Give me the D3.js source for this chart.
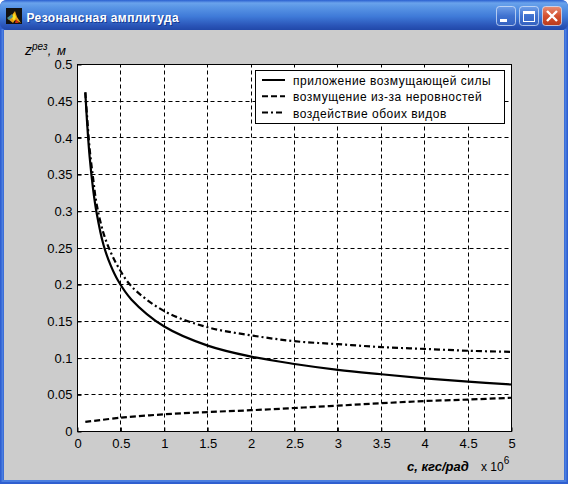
<!DOCTYPE html>
<html><head><meta charset="utf-8">
<script src="https://cdn.jsdelivr.net/npm/d3@7/dist/d3.min.js"></script>
<style>html,body{margin:0;padding:0;background:#fff;overflow:hidden}svg{display:block}text{font-family:"Liberation Sans",Arial,sans-serif}</style>
</head><body><svg id="c" width="568" height="484"></svg>
<script>
const windowTitle = "Резонансная амплитуда";
const xTicks = [0,0.5,1,1.5,2,2.5,3,3.5,4,4.5,5];
const yTicks = [0,0.05,0.1,0.15,0.2,0.25,0.3,0.35,0.4,0.45,0.5];
const seriesNames = ["приложение возмущающей силы","возмущение из-за неровностей","воздействие обоих видов"];
const cSolid = [0.09,0.11,0.14,0.18,0.22,0.3,0.38,0.47,0.62,1,1.5,2,2.5,3,3.5,4,4.5,5];
const zSolid = [0.462,0.422,0.374,0.33,0.298,0.254,0.227,0.205,0.18,0.143,0.117,0.102,0.092,0.084,0.078,0.0725,0.068,0.064];
const cDash = [0.09,0.5,1,1.5,2,2.5,3,3.5,4,4.5,5];
const zDash = [0.013,0.0188,0.0234,0.0265,0.029,0.032,0.0352,0.0385,0.0415,0.0435,0.046];
const cDashDot = [0.09,0.11,0.14,0.18,0.22,0.3,0.38,0.47,0.62,1,1.5,2,2.5,3,3.5,4,4.5,5];
const zDashDot = [0.462,0.43,0.385,0.345,0.31,0.27,0.245,0.224,0.198,0.164,0.142,0.131,0.123,0.119,0.115,0.1125,0.11,0.1085];
const dashes = [null,"6,3","6,3,2,3"];

const svg = d3.select("#c");
const defs = svg.append("defs");
const tb = defs.append("linearGradient").attr("id","tb").attr("x1",0).attr("x2",0).attr("y1",0).attr("y2",1);
[[0,"#2a5fd0"],[0.1,"#6aa3ec"],[0.22,"#5b97e6"],[0.55,"#3f7ad8"],[0.85,"#2a55b8"],[1,"#2148a8"]].forEach(s=>tb.append("stop").attr("offset",s[0]).attr("stop-color",s[1]));
const rb = defs.append("linearGradient").attr("id","rb").attr("x1",0).attr("x2",0).attr("y1",0).attr("y2",1);
[[0,"#e89078"],[0.5,"#d4512f"],[1,"#b83a1c"]].forEach(s=>rb.append("stop").attr("offset",s[0]).attr("stop-color",s[1]));
const bb = defs.append("linearGradient").attr("id","bb").attr("x1",0).attr("x2",0).attr("y1",0).attr("y2",1);
[[0,"#6f9fe8"],[0.5,"#3f72d0"],[1,"#3562c0"]].forEach(s=>bb.append("stop").attr("offset",s[0]).attr("stop-color",s[1]));

// window frame
svg.append("path").attr("d","M0,484V7Q0,0 7,0H561Q568,0 568,7V484Z").attr("fill","#2f5fd0");
svg.append("rect").attr("x",0).attr("y",0).attr("width",568).attr("height",30).attr("rx",7).attr("fill","url(#tb)");
svg.append("rect").attr("x",4).attr("y",30).attr("width",560).attr("height",450).attr("fill","#cccccc");
svg.append("rect").attr("x",1.5).attr("y",29).attr("width",2).attr("height",453).attr("fill","#4a7ee0");
svg.append("rect").attr("x",564.5).attr("y",29).attr("width",2).attr("height",453).attr("fill","#4a7ee0");
svg.append("rect").attr("x",2).attr("y",480).attr("width",564).attr("height",2).attr("fill","#4a7ee0");

// icon
const ic = svg.append("g").attr("transform","translate(6,8)");
ic.append("rect").attr("width",16).attr("height",16).attr("fill","#111");
ic.append("path").attr("d","M2,11L6,7L9,3L11,9L15,15L9,12L7,15Z").attr("fill","#e8a010");
ic.append("path").attr("d","M8,5L10,9L8,13L6,10Z").attr("fill","#f8e020");
ic.append("path").attr("d","M1,10L6,6L7,9L3,12Z").attr("fill","#4a8a90");
ic.append("path").attr("d","M10,11L13,15H9Z").attr("fill","#d03010");

const titleAttrs=s=>s.attr("x",26.5).attr("y",21.5).attr("font-size",12).attr("font-weight","bold").attr("letter-spacing",.4).text(windowTitle);
svg.append("text").call(titleAttrs).attr("fill","#0a2a80").attr("opacity",.7).attr("dx",1).attr("dy",1);
svg.append("text").call(titleAttrs).attr("fill","#fff");

// window buttons
function btn(x,fill){return svg.append("rect").attr("x",x+.5).attr("y",6.5).attr("width",19).attr("height",19).attr("rx",3).attr("fill",fill).attr("stroke","#d8e4f8").attr("stroke-opacity",.75);}
btn(496,"url(#bb)");
svg.append("rect").attr("x",500).attr("y",19).attr("width",7).attr("height",3).attr("fill","#fff");
btn(519,"url(#bb)");
svg.append("rect").attr("x",523.5).attr("y",11.5).attr("width",11).attr("height",10).attr("fill","none").attr("stroke","#fff");
svg.append("rect").attr("x",523).attr("y",11).attr("width",12).attr("height",3).attr("fill","#fff");
btn(542,"url(#rb)");
svg.append("path").attr("d","M547,11L557,21M557,11L547,21").attr("stroke","#fff").attr("stroke-width",2.4);

// axes
const L=77.5,R=511.5,T=64.5,B=431.5;
const x=d3.scaleLinear().domain([0,5]).range([L,R]);
const y=d3.scaleLinear().domain([0,0.5]).range([B,T]);
svg.append("rect").attr("x",L).attr("y",T).attr("width",R-L).attr("height",B-T).attr("fill","#fff");
const snap=v=>Math.round(v-.5)+.5;
const grid=svg.append("g").attr("stroke","#000").attr("stroke-width",1).attr("stroke-dasharray","4,3");
grid.selectAll(".gx").data(xTicks.slice(1,-1)).join("line").attr("x1",d=>snap(x(d))).attr("x2",d=>snap(x(d))).attr("y1",B).attr("y2",T);
grid.selectAll(".gy").data(yTicks.slice(1,-1)).join("line").attr("y1",d=>snap(y(d))).attr("y2",d=>snap(y(d))).attr("x1",L).attr("x2",R);

const line=d3.line().x(d=>x(d[0])).y(d=>y(d[1])).curve(d3.curveCatmullRom.alpha(0.5));
[[cSolid,zSolid],[cDash,zDash],[cDashDot,zDashDot]].forEach((s,i)=>{
  svg.append("path").datum(d3.zip(s[0],s[1])).attr("d",line).attr("fill","none").attr("stroke","#000").attr("stroke-width",2.2).attr("stroke-dasharray",dashes[i]);
});

const axB=d3.axisBottom(x).tickValues(xTicks).tickFormat(d3.format("~g")).tickSize(-4).tickPadding(7);
const axL=d3.axisLeft(y).tickValues(yTicks).tickFormat(d3.format("~g")).tickSize(-4).tickPadding(5);
const gx=svg.append("g").attr("transform",`translate(0,${B})`).call(axB);
const gy=svg.append("g").attr("transform",`translate(${L},0)`).call(axL);
[gx,gy].forEach(g=>{g.selectAll("text").attr("font-size",13).attr("font-family",'"Liberation Sans",Arial,sans-serif').attr("fill","#000");g.select(".domain").remove();});
svg.append("rect").attr("x",L).attr("y",T).attr("width",R-L).attr("height",B-T).attr("fill","none").attr("stroke","#000");

// legend
const lg=svg.append("g");
lg.append("rect").attr("x",255.5).attr("y",70.5).attr("width",249).attr("height",53).attr("fill","#fff").attr("stroke","#000");
seriesNames.forEach((n,i)=>{
  const ly=80+i*16.3;
  lg.append("line").attr("x1",262).attr("x2",285).attr("y1",ly).attr("y2",ly).attr("stroke","#000").attr("stroke-width",2).attr("stroke-dasharray",dashes[i]);
  lg.append("text").attr("x",293).attr("y",ly+5).attr("font-size",12).attr("letter-spacing",.5).attr("fill","#000").text(n);
});

// axis titles
const yl=svg.append("text").attr("x",25).attr("y",55).attr("font-size",13).attr("font-style","italic").attr("fill","#000");
yl.append("tspan").attr("font-size",14).text("z");
yl.append("tspan").attr("dy",-5).attr("font-size",10).text("рез");
yl.append("tspan").attr("dy",5).attr("letter-spacing",1).text(", м");
svg.append("text").attr("x",407).attr("y",471).attr("font-size",13).attr("font-style","italic").attr("font-weight","bold").attr("fill","#000").text("с, кгс/рад");
const ex=svg.append("text").attr("x",481).attr("y",471).attr("font-size",12).attr("fill","#000");
ex.append("tspan").text("x 10");
ex.append("tspan").attr("dy",-7).attr("font-size",10).text("6");
</script></body></html>
